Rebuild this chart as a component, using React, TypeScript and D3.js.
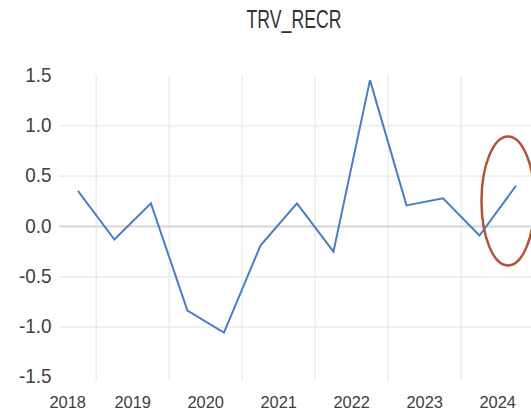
import React from "react";
import * as d3 from "d3";

const title = "TRV_RECR";
// half-year periods: index 1 = 2018 H2 ... 13 = 2024 H2
const periods = [1, 2, 3, 4, 5, 6, 7, 8, 9, 10, 11, 12, 13];
const values = [0.355, -0.13, 0.23, -0.835, -1.055, -0.19, 0.23, -0.25, 1.455, 0.21, 0.28, -0.09, 0.405];
const years = ["2018", "2019", "2020", "2021", "2022", "2023", "2024"];
const yTicks = [1.5, 1.0, 0.5, 0.0, -0.5, -1.0, -1.5];
const yGrid = [1.0, 0.5, 0.0, -0.5, -1.0];

const W = 531;
const H = 413;

export default function App() {
  const x = d3.scaleLinear().domain([1, 13]).range([77.9, 516]);
  const y = d3.scaleLinear().domain([-1.5, 1.5]).range([377.4, 75.6]);
  const plotLeft = 59;
  const line = d3
    .line<number>()
    .x((_, i) => x(periods[i]))
    .y((d) => y(d));

  const yearBoundaries = years.map((_, j) => 1.5 + 2 * j);
  const yearCenters = years.map((_, j) => (j === 0 ? 0.72 : 0.5 + 2 * j));

  return (
    <svg
      width={W}
      height={H}
      style={{ position: "absolute", left: 0, top: 0, background: "#fff" }}
      fontFamily="Liberation Sans, Arial, sans-serif"
    >
      <rect x={0} y={0} width={W} height={H} fill="#fff" />
      <text
        x={294}
        y={28}
        fontSize={26}
        fill="#333"
        textAnchor="middle"
        textLength={95}
        lengthAdjust="spacingAndGlyphs"
      >
        {title}
      </text>
      {yearBoundaries.map((k, i) => (
        <line
          key={"v" + i}
          x1={x(k)}
          x2={x(k)}
          y1={y(1.5)}
          y2={y(-1.5) + 3}
          stroke="#e8e8e8"
          strokeWidth={1.2}
        />
      ))}
      {yGrid.map((v, i) => (
        <line
          key={"h" + i}
          x1={plotLeft}
          x2={W}
          y1={y(v)}
          y2={y(v)}
          stroke={v === 0 ? "#d6d6d6" : "#e8e8e8"}
          strokeWidth={v === 0 ? 2 : 1.2}
        />
      ))}
      {yTicks.map((v, i) => {
        const s = v.toFixed(1);
        return (
          <text
            key={"yt" + i}
            x={51.5}
            y={y(v) - 1.5}
            fontSize={21}
            fill="#404040"
            textAnchor="end"
            dominantBaseline="central"
            textLength={s.length * 8.4 + (v < 0 ? -1 : 1)}
            lengthAdjust="spacingAndGlyphs"
          >
            {s}
          </text>
        );
      })}
      {years.map((yr, i) => (
        <text
          key={"xt" + i}
          x={x(yearCenters[i])}
          y={407.5}
          fontSize={17}
          fill="#404040"
          textAnchor="middle"
          textLength={36.5}
          lengthAdjust="spacingAndGlyphs"
        >
          {yr}
        </text>
      ))}
      <path d={line(values) || ""} fill="none" stroke="#4a7cc7" strokeWidth={2} strokeLinejoin="miter" />
      <ellipse cx={508} cy={201} rx={26.5} ry={64.5} fill="none" stroke="#b3543a" strokeWidth={2.5} />
    </svg>
  );
}
